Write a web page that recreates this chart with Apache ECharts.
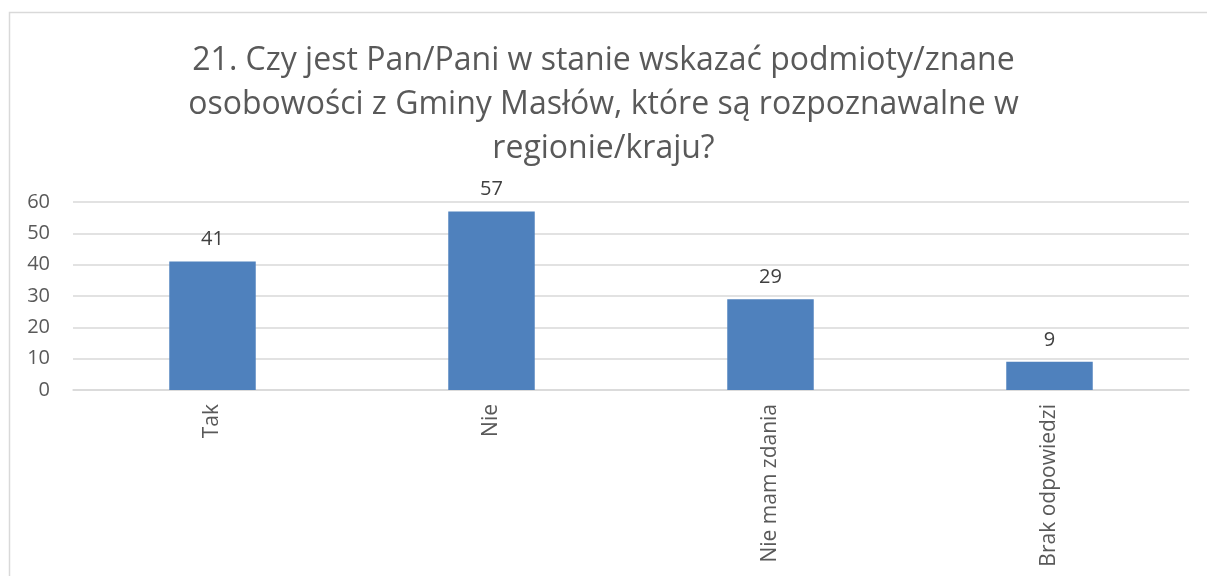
<!DOCTYPE html>
<html>
<head>
<meta charset="utf-8">
<script src="https://cdn.jsdelivr.net/npm/echarts@6/dist/echarts.min.js"></script>
<style>
  html, body { margin: 0; padding: 0; background: #fff; }
  #chart { width: 1207px; height: 576px; }
</style>
</head>
<body>
<div id="chart"></div>
<script>
const titleText = '21. Czy jest Pan/Pani w stanie wskazać podmioty/znane\nosobowości z Gminy Masłów, które są rozpoznawalne w\nregionie/kraju?'
const categories = ['Tak', 'Nie', 'Nie mam zdania', 'Brak odpowiedzi']
const values = [41, 57, 29, 9]
const yTicks = [0, 10, 20, 30, 40, 50, 60]

const textColor = '#595959'
const chart = echarts.init(document.getElementById('chart'))

const options = {
  backgroundColor: '#ffffff',
  animation: false,
  textStyle: { fontFamily: 'Open Sans' },
  graphic: [
    {
      type: 'rect',
      shape: { x: 9.5, y: 12.5, width: 1200, height: 600 },
      style: { fill: 'none', stroke: '#d9d9d9', lineWidth: 1.5 },
      silent: true
    }
  ],
  title: {
    text: titleText,
    left: 'center',
    top: 34,
    textStyle: {
      fontFamily: 'Open Sans',
      fontSize: 32,
      fontWeight: 'normal',
      color: textColor,
      lineHeight: 44
    }
  },
  grid: {
    left: 73,
    right: 18,
    top: 202,
    bottom: 186,
    containLabel: false
  },
  xAxis: [
    {
      type: 'category',
      data: categories,
      axisTick: { show: false },
      axisLine: { show: true, lineStyle: { color: '#d9d9d9', width: 1.5 } },
      axisLabel: {
        rotate: 90,
        color: textColor,
        fontSize: 21,
        margin: 14,
        interval: 0
      }
    }
  ],
  yAxis: [
    {
      type: 'value',
      min: yTicks[0],
      max: yTicks[yTicks.length - 1],
      interval: 10,
      axisLine: { show: false },
      axisTick: { show: false },
      axisLabel: { color: textColor, fontSize: 20, margin: 23 },
      splitLine: { lineStyle: { color: '#d9d9d9', width: 1.5 } }
    }
  ],
  series: [
    {
      type: 'bar',
      data: values,
      barWidth: '31%',
      itemStyle: { color: '#4f81bd' },
      label: {
        show: true,
        position: 'top',
        distance: 12,
        color: '#404040',
        fontSize: 20
      }
    }
  ]
}

chart.setOption(options)
</script>
</body>
</html>
